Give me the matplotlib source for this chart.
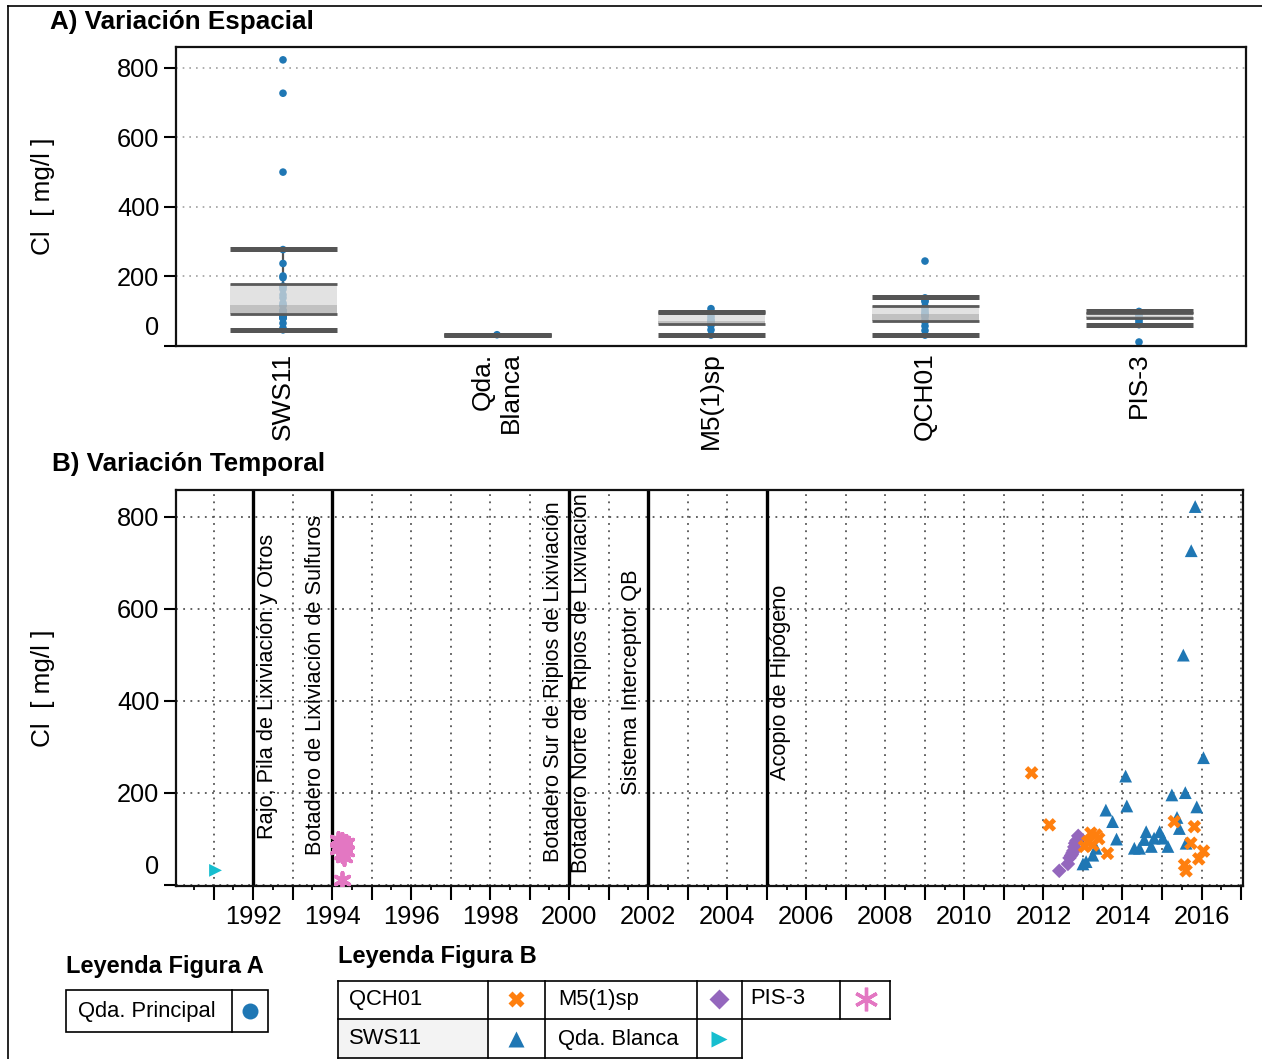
import numpy as np
import matplotlib
matplotlib.use("Agg")
import matplotlib.pyplot as plt
from matplotlib import font_manager as fm
from matplotlib.ticker import MultipleLocator, FuncFormatter
from matplotlib.transforms import ScaledTranslation
from matplotlib.patches import Rectangle

# ---------------------------------------------------------------- data
stations = ['SWS11', 'Qda.\nBlanca', 'M5(1)sp', 'QCH01', 'PIS-3']

sws11_year = [2013.00, 2013.08, 2013.25, 2013.33, 2013.58, 2013.75, 2013.85,
              2014.08, 2014.11, 2014.30, 2014.43, 2014.55, 2014.60, 2014.73,
              2014.80, 2014.94, 2015.02, 2015.15, 2015.25, 2015.38, 2015.44,
              2015.54, 2015.59, 2015.61, 2015.74, 2015.84, 2015.88, 2016.05]
sws11_cl = [45, 50, 64, 79, 162, 137, 99,
            236, 171, 79, 79, 98, 115, 83,
            101, 115, 101, 83, 195, 146, 122,
            499, 200, 90, 726, 822, 169, 276]

qch01_year = [2011.70, 2012.15, 2013.04, 2013.12, 2013.20, 2013.25, 2013.33,
              2013.40, 2013.62, 2015.31, 2015.57, 2015.61, 2015.73, 2015.82,
              2015.93, 2016.05]
qch01_cl = [243, 130, 83, 93, 112, 86, 108,
            100, 68, 137, 43, 30, 90, 126,
            56, 73]

m5_year = [2012.40, 2012.62, 2012.66, 2012.70, 2012.72, 2012.74, 2012.76,
           2012.78, 2012.80, 2012.83, 2012.86, 2012.88]
m5_cl = [30, 45, 58, 63, 66, 70, 74, 82, 90, 95, 97, 106]

pis3_year = [1994.15, 1994.25, 1994.35, 1994.20, 1994.30, 1994.15, 1994.35,
             1994.25, 1994.30, 1994.25]
pis3_cl = [98, 94, 90, 85, 82, 78, 73, 66, 60, 10]

qdab_year = [1991.05]
qdab_cl = [31]

# box summary per station (same order as `stations`)
box_lo = [45, 31, 31, 31, 60]
box_q1 = [92, 31, 63, 70, 78]
box_med = [116, 31, 70, 90, 85]
box_q3 = [177, 31, 95, 114, 94]
box_hi = [277, 31, 97, 139, 98]

# works / infrastructure start dates
event_years = [1992, 1994, 2000, 2002, 2005]
event_labels = ['Rajo, Pila de Lixiviación y Otros',
                'Botadero de Lixiviación de Sulfuros',
                'Botadero Sur de Ripios de Lixiviación',
                'Botadero Norte de Ripios de Lixiviación',
                'Sistema Interceptor QB',
                'Acopio de Hipógeno']
event_label_pos = [(1992.36, 100), (1993.57, 64), (1999.59, 50),
                   (2000.32, 26), (2001.58, 195), (2005.35, 228)]

# ---------------------------------------------------------------- style
names = {f.name for f in fm.fontManager.ttflist}
NARROW = 'Liberation Sans Narrow' in names
FAMILY = 'Liberation Sans Narrow' if NARROW else 'Liberation Sans'
plt.rcParams['font.family'] = [FAMILY, 'DejaVu Sans']
k = 1.2 if NARROW else 1.0
FS_TICK = 18.3 * k
FS_CAT = 19.0 * k
FS_YLAB = 18.8 * k
FS_TITLE = 18.7 * k
FS_ANN = 15.7 * k
FS_LEG = 15.8 * k
FS_LEG_TITLE = 17.0 * k

BLUE = '#1f77b4'
ORANGE = '#ff7f0e'
PURPLE = '#9467bd'
PINK = '#e377c2'
CYAN = '#17becf'

W, H = 1262, 1059
fig = plt.figure(figsize=(W / 100, H / 100), dpi=100)


def fx(px):
    return px / W


def fy(py):
    return 1 - py / H


axA = fig.add_axes([fx(176), fy(345.5), (1246 - 176) / W, (345.5 - 47) / H])
axB = fig.add_axes([fx(176), fy(886), (1243 - 176) / W, (886 - 490) / H])

# ---------------------------------------------------------------- A) spatial
values_by_station = [sws11_cl, qdab_cl, m5_cl, qch01_cl, pis3_cl]
half = 0.25
for i, vals in enumerate(values_by_station):
    axA.vlines(i, box_lo[i], box_hi[i], color='#555555', lw=1.6, zorder=1.5)
    axA.scatter(np.full(len(vals), i), vals, s=30, color=BLUE,
                edgecolors='none', zorder=2)
    axA.fill_between([i - half, i + half], box_q1[i], box_q3[i],
                     color='#d9d9d9', alpha=0.75, lw=0, zorder=3)
    axA.fill_between([i - half, i + half], box_q1[i], box_med[i],
                     color='#9a9a9a', alpha=0.45, lw=0, zorder=3)
    axA.hlines([box_q1[i], box_q3[i]], i - half, i + half,
               color='#5a5a5a', lw=2.0, zorder=4)
    axA.hlines([box_lo[i], box_hi[i]], i - half, i + half,
               color='#555555', lw=3.6, zorder=5)

axA.set_xlim(-0.5, 4.5)
axA.set_ylim(0, 859)
axA.set_yticks([0, 200, 400, 600, 800])
axA.set_xticks(range(len(stations)))
axA.set_xticklabels(stations, rotation=90, va='top', ha='center',
                    multialignment='right', fontsize=FS_CAT)
axA.tick_params(axis='x', length=0, pad=5)
axA.tick_params(axis='y', direction='out', length=9, width=1.5,
                labelsize=FS_TICK, pad=3)
axA.yaxis.grid(True, linestyle=(0, (1, 3)), color='#a0a0a0', lw=1.2)
axA.set_axisbelow(True)
for sp in axA.spines.values():
    sp.set_linewidth(1.6)
    sp.set_color('#111111')

# ---------------------------------------------------------------- B) temporal
axB.set_xlim(1990.05, 2017.05)
axB.set_ylim(-3, 858)
axB.xaxis.set_major_locator(MultipleLocator(1))
axB.xaxis.set_minor_locator(MultipleLocator(0.5))
axB.xaxis.set_major_formatter(
    FuncFormatter(lambda v, p: f'{int(round(v))}' if round(v) % 2 == 0 else ''))
axB.set_yticks([0, 200, 400, 600, 800])
axB.tick_params(axis='x', which='major', direction='out', length=10,
                width=1.5, labelsize=FS_TICK, pad=4)
axB.tick_params(axis='x', which='minor', direction='out', length=3, width=1.3)
axB.tick_params(axis='y', direction='out', length=9, width=1.5,
                labelsize=FS_TICK, pad=3)
axB.grid(True, which='major', linestyle=(0, (1, 3)), color='#555555', lw=1.3)
axB.set_axisbelow(True)
for sp in axB.spines.values():
    sp.set_linewidth(1.6)
    sp.set_color('#111111')

for yr in event_years:
    axB.axvline(yr, color='black', lw=2.4, zorder=2)
for (xv, yv), txt in zip(event_label_pos, event_labels):
    axB.text(xv, yv, txt, rotation=90, ha='center', va='bottom',
             fontsize=FS_ANN, zorder=2.5)

axB.scatter(m5_year, m5_cl, marker='D', s=55, color=PURPLE,
            edgecolors='none', zorder=3)
axB.scatter(sws11_year, sws11_cl, marker='^', s=85, color=BLUE,
            edgecolors='none', zorder=3.2)
axB.scatter(qch01_year, qch01_cl, marker='X', s=95, color=ORANGE,
            edgecolors='none', zorder=3.4)
axB.scatter(pis3_year, pis3_cl, marker=(6, 2, 0), s=120, color=PINK,
            linewidths=2.8, zorder=3.6)
axB.scatter(qdab_year, qdab_cl, marker='>', s=85, color=CYAN,
            edgecolors='none', zorder=3.6)

# axis labels, the zero label sits just above its tick
for ax in (axA, axB):
    ax.set_ylabel('Cl  [ mg/l ]', fontsize=FS_YLAB)
    ax.yaxis.set_label_coords(-0.113, 0.5)
    for lab in ax.get_yticklabels():
        if lab.get_text() == '0':
            lab.set_verticalalignment('bottom')
            lab.set_transform(lab.get_transform() +
                              ScaledTranslation(0, 4 / 72, fig.dpi_scale_trans))

fig.text(fx(50), fy(22), 'A) Variación Espacial', fontsize=FS_TITLE,
         fontweight='bold', ha='left', va='center')
fig.text(fx(52), fy(464), 'B) Variación Temporal', fontsize=FS_TITLE,
         fontweight='bold', ha='left', va='center')

# ---------------------------------------------------------------- legends
lg = fig.add_axes([0, 0, 1, 1], zorder=-1)
lg.set_xlim(0, W)
lg.set_ylim(H, 0)
lg.axis('off')

# outer frame
lg.plot([8, 8], [6, H], color='black', lw=1.2)
lg.plot([8, W], [6, 6], color='black', lw=1.2)

# figure A legend
lg.text(66, 966, 'Leyenda Figura A', fontsize=FS_LEG_TITLE, fontweight='bold',
        ha='left', va='center')
lg.add_patch(Rectangle((66, 990), 202, 42, fill=False, ec='black', lw=1.2))
lg.plot([232, 232], [990, 1032], color='black', lw=1.2)
lg.text(78, 1011, 'Qda. Principal', fontsize=FS_LEG, ha='left', va='center')
lg.plot([250], [1011], marker='o', ms=11.5, color=BLUE, mec='none')

# figure B legend
lg.text(338, 956, 'Leyenda Figura B', fontsize=FS_LEG_TITLE, fontweight='bold',
        ha='left', va='center')
lg.add_patch(Rectangle((338, 1019), 150, 39, fc='#f3f3f3', ec='none'))
lc = dict(color='black', lw=1.2)
lg.plot([338, 890], [981, 981], **lc)
lg.plot([338, 890], [1019, 1019], **lc)
lg.plot([338, 742], [1058, 1058], **lc)
for xv in (338, 488, 545, 697, 742):
    lg.plot([xv, xv], [981, 1058], **lc)
for xv in (840, 890):
    lg.plot([xv, xv], [981, 1019], **lc)

lg.text(349, 999, 'QCH01', fontsize=FS_LEG, ha='left', va='center')
lg.text(558, 999, 'M5(1)sp', fontsize=FS_LEG, ha='left', va='center')
lg.text(750, 999, 'PIS-3', fontsize=FS_LEG, ha='left', va='center')
lg.text(349, 1039, 'SWS11', fontsize=FS_LEG, ha='left', va='center')
lg.text(558, 1039, 'Qda. Blanca', fontsize=FS_LEG, ha='left', va='center')
lg.plot([516], [999], marker='X', ms=12, color=ORANGE, mec='none')
lg.plot([719], [999], marker='D', ms=10, color=PURPLE, mec='none')
lg.plot([866], [999], marker=(6, 2, 0), ms=17, color=PINK, mew=2.4)
lg.plot([516], [1039], marker='^', ms=12, color=BLUE, mec='none')
lg.plot([719], [1039], marker='>', ms=12, color=CYAN, mec='none')

fig.savefig('out.png', dpi=100)
